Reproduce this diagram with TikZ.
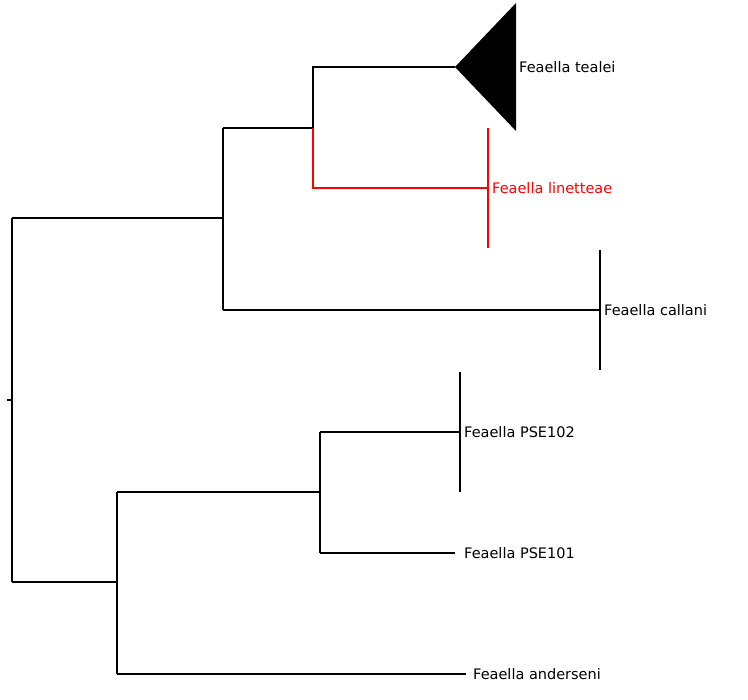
\documentclass[tikz,border=0pt]{standalone}
\usepackage{fontspec}
\setmainfont{DejaVu Sans}
\usetikzlibrary{positioning}
\tikzset{branch/.style={draw,line width=1.6pt},
         redbranch/.style={draw=red,line width=1.6pt},
         taxon/.style={anchor=west,inner sep=0pt,font=\fontsize{14.5}{16}\selectfont}}
\begin{document}
\begin{tikzpicture}[x=1pt,y=-1pt]
  \useasboundingbox (0,0) rectangle (748,700);
  % internal nodes
  \coordinate (root) at (12,400);
  \coordinate (rtick) at (7,400);
  \coordinate (top) at (12,218);
  \coordinate (bot) at (12,582);
  \coordinate (a) at (223,218);
  \coordinate (a1) at (223,128);
  \coordinate (a2) at (223,310);
  \coordinate (b) at (313,128);
  \coordinate (b1) at (313,67);
  \coordinate (b2) at (313,188);
  \coordinate (c) at (117,582);
  \coordinate (c1) at (117,492);
  \coordinate (c2) at (117,674);
  \coordinate (d) at (320,492);
  \coordinate (d1) at (320,432);
  \coordinate (d2) at (320,553);
  % tips
  \coordinate (tealei) at (455,67);
  \coordinate (linet) at (488,188);
  \coordinate (callani) at (600,310);
  \coordinate (pse102) at (460,432);
  \coordinate (pse101) at (455,553);
  \coordinate (andersen) at (466,674);
  % tree
  \draw[branch] (rtick) -- (root);
  \draw[branch] (top) -- (bot);
  \draw[branch] (top) -- (a);
  \draw[branch] (a1) -- (a2);
  \draw[branch] (a1) -- (b) -- (b1) -- (tealei);
  \draw[redbranch] (b) -- (b2) -- (linet);
  \draw[redbranch] ([yshift=-60]linet) -- ([yshift=60]linet);
  \draw[branch] (a2) -- (callani);
  \draw[branch] ([yshift=-60]callani) -- ([yshift=60]callani);
  \draw[branch] (bot) -- (c);
  \draw[branch] (c1) -- (c2);
  \draw[branch] (c1) -- (d);
  \draw[branch] (d1) -- (d2);
  \draw[branch] (d1) -- (pse102);
  \draw[branch] ([yshift=-60]pse102) -- ([yshift=60]pse102);
  \draw[branch] (d2) -- (pse101);
  \draw[branch] (c2) -- (andersen);
  \fill (tealei) -- (516,3) -- (516,131) -- cycle;
  % labels
  \node[taxon] (ltealei) at (519,67) {Feaella tealei};
  \node[taxon,text=red] (llinet) at (492,188) {Feaella linetteae};
  \node[taxon] (lcallani) at (604,310) {Feaella callani};
  \node[taxon] (lpse102) at (464,432) {Feaella PSE102};
  \node[taxon] (lpse101) at (464,553) {Feaella PSE101};
  \node[taxon] (landersen) at (473,674) {Feaella anderseni};
\end{tikzpicture}
\end{document}
